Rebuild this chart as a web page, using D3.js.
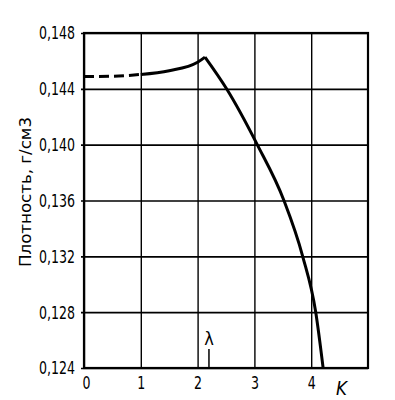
<!DOCTYPE html>
<html>
<head>
<meta charset="utf-8">
<script src="https://cdn.jsdelivr.net/npm/d3@7"></script>
<style>
body { margin: 0; background: #fff; }
text { font-family: "DejaVu Sans Condensed", "DejaVu Sans", sans-serif; fill: #000; }
</style>
</head>
<body>
<div id="chart"></div>
<script>
// values
var xTicks = [0, 1, 2, 3, 4];
var yTicks = [0.124, 0.128, 0.132, 0.136, 0.140, 0.144, 0.148];
var dashedK = [0, 0.5, 1];
var dashedRho = [0.14488, 0.14490, 0.14503];
var riseK = [1, 1.5, 2, 2.13];
var riseRho = [0.14503, 0.14530, 0.14590, 0.14627];
var fallK = [2.13, 2.51, 3.05, 3.52, 3.85, 4.08, 4.21];
var fallRho = [0.14627, 0.144, 0.140, 0.136, 0.132, 0.128, 0.124];
var lambdaK = 2.2;

var margin = {top: 33, right: 27, bottom: 32, left: 84},
    width = 395 - margin.left - margin.right,
    height = 400 - margin.top - margin.bottom;

var svg = d3.select("#chart").append("svg")
    .attr("width", 395).attr("height", 400)
  .append("g")
    .attr("transform", "translate(" + margin.left + "," + margin.top + ")");

var x = d3.scaleLinear().domain([0, 5]).range([0, width]);
var y = d3.scaleLinear().domain([0.124, 0.148]).range([height, 0]);

// horizontal grid + y labels
var ya = svg.append("g")
  .call(d3.axisLeft(y).tickValues(yTicks).tickSize(-width - 3).tickPadding(6)
    .tickFormat(function(d) { return d3.format(".3f")(d).replace(".", ","); }))
  .attr("transform", "translate(-3,0)");
ya.select(".domain").remove();
ya.selectAll("line").attr("stroke", "#000").attr("stroke-width", 1.6);
ya.selectAll("text").attr("font-size", "17px").attr("dy", "0.35em")
  .attr("textLength", 36).attr("lengthAdjust", "spacingAndGlyphs");

// vertical grid + x labels
var xa = svg.append("g")
  .attr("transform", "translate(0," + height + ")")
  .call(d3.axisBottom(x).tickValues(xTicks).tickSize(-height).tickPadding(8).tickFormat(d3.format("d")));
xa.select(".domain").remove();
xa.selectAll("line").attr("stroke", "#000").attr("stroke-width", 1.4);
xa.selectAll("text").attr("font-size", "18px")
  .attr("textLength", 8).attr("lengthAdjust", "spacingAndGlyphs");
xa.selectAll("text").filter(function(d) { return d === 0; }).attr("dx", "2");

// frame
svg.append("rect")
  .attr("x", 0).attr("y", 0).attr("width", width).attr("height", height)
  .attr("fill", "none").attr("stroke", "#000").attr("stroke-width", 2.2);

var line = d3.line()
  .x(function(d) { return x(d[0]); })
  .y(function(d) { return y(d[1]); })
  .curve(d3.curveMonotoneX);

svg.append("path")
  .datum(d3.zip(dashedK, dashedRho))
  .attr("d", line)
  .attr("fill", "none").attr("stroke", "#000").attr("stroke-width", 3)
  .attr("stroke-dasharray", "10,5");

svg.append("path")
  .datum(d3.zip(riseK, riseRho))
  .attr("d", line)
  .attr("fill", "none").attr("stroke", "#000").attr("stroke-width", 3);

svg.append("path")
  .datum(d3.zip(fallK, fallRho))
  .attr("d", line)
  .attr("fill", "none").attr("stroke", "#000").attr("stroke-width", 3);

// lambda marker
svg.append("line")
  .attr("x1", x(lambdaK)).attr("x2", x(lambdaK))
  .attr("y1", height - 19).attr("y2", height)
  .attr("stroke", "#000").attr("stroke-width", 1.5);
svg.append("text")
  .attr("x", x(lambdaK)).attr("y", height - 23)
  .attr("text-anchor", "middle").attr("font-size", "18px")
  .text("λ");

// axis titles
svg.append("text")
  .attr("x", 252).attr("y", height + 27)
  .attr("font-size", "19px").attr("font-style", "italic")
  .attr("textLength", 11).attr("lengthAdjust", "spacingAndGlyphs")
  .text("K");

svg.append("text")
  .attr("transform", "translate(" + (-53) + "," + 159 + ") rotate(-90)")
  .attr("text-anchor", "middle").attr("font-size", "16px")
  .attr("textLength", 150).attr("lengthAdjust", "spacingAndGlyphs")
  .text("Плотность, г/см3");
</script>
</body>
</html>
